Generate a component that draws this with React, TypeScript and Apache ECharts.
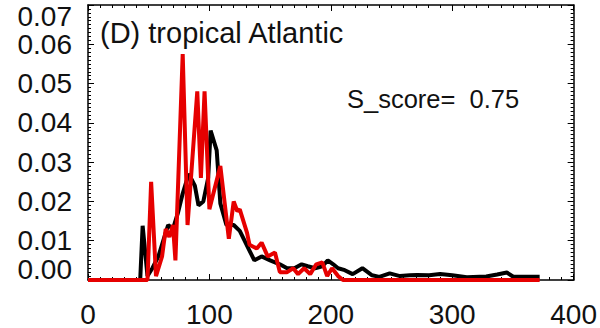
import React, { useEffect, useRef } from "react";
import * as echarts from "echarts";

const titleText = "(D) tropical Atlantic";
const scoreText = "S_score=  0.75";

const xTicks = [0, 100, 200, 300, 400];
const yTicks = [0, 0.01, 0.02, 0.03, 0.04, 0.05, 0.06, 0.07];

const blackX = [0, 43, 45, 49, 53, 58, 62, 66, 70, 74, 78, 83, 88, 91, 95, 99, 101, 106, 109, 114, 120, 125, 133, 137, 143, 150, 158, 164, 170, 176, 181, 187, 193, 197.5, 202, 206, 211.5, 218, 226, 234, 240, 248.5, 257, 265, 271, 281, 290, 300, 312, 328, 337, 345, 350, 361, 372];
const blackY = [0, 0, 0.0138, 0.001, 0.003, 0.006, 0.01, 0.014, 0.013, 0.017, 0.022, 0.027, 0.024, 0.019, 0.02, 0.026, 0.038, 0.033, 0.0195, 0.014, 0.014, 0.0125, 0.0075, 0.005, 0.006, 0.005, 0.004, 0.003, 0.003, 0.004, 0.0035, 0.003, 0.0035, 0.005, 0.004, 0.003, 0.0025, 0.0015, 0.003, 0.0012, 0.0008, 0.0017, 0.001, 0.0012, 0.0013, 0.0012, 0.0015, 0.0012, 0.0007, 0.0009, 0.0014, 0.0019, 0.0009, 0.0008, 0.0008];

const redX = [0, 49, 52, 56, 61, 64, 67, 70, 72, 78, 82, 90, 93, 96, 100, 109, 116, 120, 123, 125, 131, 133, 139, 143, 148, 154, 158, 164, 169, 173, 178, 183, 188, 193, 197, 201, 206, 210, 372];
const redY = [0, 0, 0.025, 0.001, 0.006, 0.013, 0.011, 0.014, 0.005, 0.0575, 0.014, 0.048, 0.026, 0.048, 0.018, 0.029, 0.0105, 0.02, 0.0175, 0.018, 0.012, 0.009, 0.008, 0.0095, 0.006, 0.007, 0.002, 0.002, 0.003, 0.0015, 0.003, 0.0015, 0.004, 0.0045, 0.001, 0.003, 0.001, 0, 0];

const FONT = "'Liberation Sans', Arial, Helvetica, sans-serif";

export default function App() {
  const ref = useRef<HTMLDivElement>(null);
  useEffect(() => {
    if (!ref.current) return;
    const chart = echarts.init(ref.current, null, { renderer: "svg" });
    const axisLine = { show: true, onZero: false, lineStyle: { color: "#000", width: 1.5 } };
    const xBase = {
      type: "value",
      min: xTicks[0],
      max: xTicks[xTicks.length - 1],
      interval: 100,
      axisLine,
      splitLine: { show: false },
      axisTick: { show: true, inside: true, length: 6, lineStyle: { color: "#000", width: 1 } },
      minorTick: { show: true, splitNumber: 10, length: 3, lineStyle: { color: "#000", width: 1 } },
    };
    const yBase = {
      type: "value",
      min: yTicks[0],
      max: yTicks[yTicks.length - 1],
      interval: 0.01,
      axisLine,
      splitLine: { show: false },
      axisTick: { show: true, inside: true, length: 6, lineStyle: { color: "#000", width: 1 } },
      minorTick: { show: true, splitNumber: 10, length: 3, lineStyle: { color: "#000", width: 1 } },
    };
    const yLabel = (v: number) => {
      const s = v.toFixed(2);
      if (Math.abs(v - yTicks[0]) < 1e-9) return `{lo|${s}}`;
      if (Math.abs(v - yTicks[yTicks.length - 1]) < 1e-9) return `{hi|${s}}`;
      return s;
    };
    const richBase = { fontFamily: FONT, fontSize: 28, color: "#111" };
    chart.setOption({
      animation: false,
      grid: { left: 88, top: 5, right: 26, bottom: 43 },
      title: {
        text: titleText,
        left: 95,
        top: 13,
        textStyle: { fontFamily: FONT, fontSize: 29, fontWeight: "normal", color: "#111" },
      },
      graphic: [
        {
          type: "text",
          x: 347,
          y: 99,
          style: {
            text: scoreText,
            font: `25.5px ${FONT}`,
            fill: "#111",
            textVerticalAlign: "middle",
            verticalAlign: "middle",
          },
        },
      ],
      xAxis: [
        {
          ...xBase,
          position: "bottom",
          axisLabel: {
            show: true,
            margin: 20,
            fontFamily: FONT,
            fontSize: 28,
            color: "#111",
            showMinLabel: true,
            showMaxLabel: true,
            formatter: (v: number) => String(v),
          },
        },
        { ...xBase, position: "top", axisLabel: { show: false } },
      ],
      yAxis: [
        {
          ...yBase,
          position: "left",
          axisLabel: {
            show: true,
            margin: 16,
            fontFamily: FONT,
            fontSize: 28,
            color: "#111",
            showMinLabel: true,
            showMaxLabel: true,
            formatter: yLabel,
            rich: {
              lo: { ...richBase, padding: [0, 0, 22, 0] },
              hi: { ...richBase, padding: [22, 0, 0, 0] },
            },
          },
        },
        { ...yBase, position: "right", axisLabel: { show: false } },
      ],
      series: [
        {
          type: "line",
          data: blackX.map((x, i) => [x, blackY[i]]),
          showSymbol: false,
          symbol: "none",
          lineStyle: { color: "#000", width: 4 },
          z: 2,
        },
        {
          type: "line",
          data: redX.map((x, i) => [x, redY[i]]),
          showSymbol: false,
          symbol: "none",
          lineStyle: { color: "#e60000", width: 4 },
          z: 3,
        },
      ],
    });
    return () => chart.dispose();
  }, []);
  return <div ref={ref} style={{ width: 600, height: 328, position: "absolute", left: 0, top: 0 }} />;
}
